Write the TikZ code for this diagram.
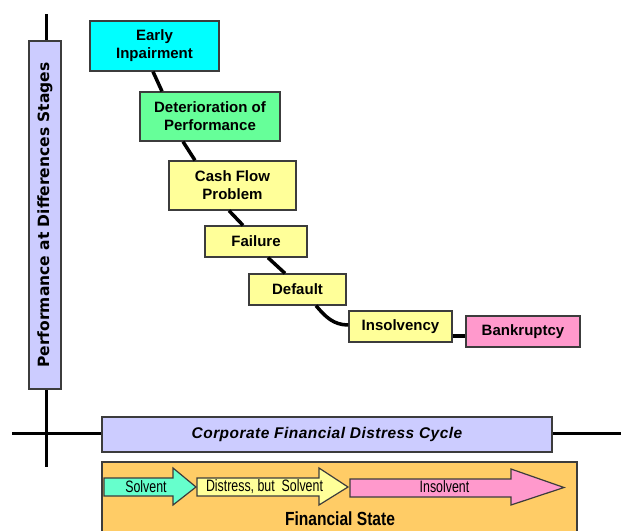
\documentclass[tikz,border=0pt]{standalone}
\usepackage{fontspec}
\usepackage{tikz}
\setmainfont{Liberation Sans}
\newfontfamily\axisfont{DejaVu Sans}
\newfontfamily\cyclefont[LetterSpace=3]{Liberation Sans}
\newfontfamily\narrowfont[FakeStretch=0.82]{Liberation Sans}
\newfontfamily\labelfont[FakeStretch=0.75]{Liberation Sans}

\definecolor{earlyc}{RGB}{0,255,255}
\definecolor{detc}{RGB}{102,255,153}
\definecolor{stagec}{RGB}{255,255,153}
\definecolor{bankc}{RGB}{255,153,204}
\definecolor{axisc}{RGB}{204,204,255}
\definecolor{statec}{RGB}{255,204,102}
\definecolor{solventc}{RGB}{102,255,204}
\definecolor{edgec}{RGB}{60,60,60}

\tikzset{
	stagebox/.style={draw=edgec, line width=1.3pt, align=center, inner sep=0pt,
		font=\fontsize{15}{18}\selectfont\bfseries},
	axisbox/.style={draw=edgec, line width=1.3pt, fill=axisc, inner sep=0pt},
	link/.style={line width=3.5pt, black},
	axisline/.style={line width=3pt, black},
	statearrow/.style={draw=edgec, line width=1.2pt},
	arrowtext/.style={font=\labelfont\fontsize{16.5}{18}\selectfont, inner sep=0pt}
}

\begin{document}
\begin{tikzpicture}[x=1pt, y=-1pt]
	
	\clip (0,0) rectangle (621,530);
	
	% axes
	\coordinate (ytop) at (46,14);
	\coordinate (ybot) at (46,467);
	\coordinate (xleft) at (12,433);
	\coordinate (xright) at (625,433);
	\draw[axisline] (ytop) -- (ybot);
	\draw[axisline] (xleft) -- (xright);
	
	\node[axisbox, rotate=90, minimum width=348, minimum height=32,
		font=\axisfont\fontsize{15.5}{18}\selectfont\bfseries] (perf) at (45,215)
		{Performance at Differences Stages};
	\node[axisbox, minimum width=450, minimum height=35,
		font=\cyclefont\fontsize{15.5}{18}\selectfont\bfseries\itshape] (cycle) at (327,434.5)
		{Corporate Financial Distress Cycle};
	
	% stages
	\node[stagebox, fill=earlyc, minimum width=129, minimum height=50] (early) at (154.5,46) {Early\\Inpairment};
	\node[stagebox, fill=detc, minimum width=140, minimum height=49] (det) at (210,116.5) {Deterioration of\\Performance};
	\node[stagebox, fill=stagec, minimum width=127, minimum height=49] (cash) at (232.5,185.5) {Cash Flow\\Problem};
	\node[stagebox, fill=stagec, minimum width=102, minimum height=31] (failure) at (256,241.5) {Failure};
	\node[stagebox, fill=stagec, minimum width=97, minimum height=31] (default) at (297.5,289.5) {Default};
	\node[stagebox, fill=stagec, minimum width=103, minimum height=31] (insolvency) at (400.5,326.5) {Insolvency};
	\node[stagebox, fill=bankc, minimum width=114, minimum height=31] (bankruptcy) at (523,331.5) {Bankruptcy};
	
	\draw[link] ([xshift=-1.5pt]early.south) -- ([xshift=-48pt]det.north);
	\draw[link] ([xshift=-27pt]det.south) -- ([xshift=-37.5pt]cash.north);
	\draw[link] ([xshift=-3.5pt]cash.south) -- ([xshift=-13pt]failure.north);
	\draw[link] ([xshift=12pt]failure.south) -- ([xshift=-12.5pt]default.north);
	\draw[link] ([xshift=18.5pt]default.south) to[out=-50, in=180] ([yshift=1.5pt]insolvency.west);
	\draw[link] ([yshift=-9.5pt]insolvency.east) -- ([yshift=-9.5pt]insolvency.east -| bankruptcy.west);
	
	% financial state
	\draw[draw=edgec, line width=1.3pt, fill=statec] (102,462) rectangle (577,545);
	\node[font=\narrowfont\fontsize{19}{22}\selectfont\bfseries, anchor=base] (state) at (340,525) {Financial State};
	
	\draw[statearrow, fill=solventc] (104,478) -- (173,478) -- (173,468) -- (196,487) -- (173,505) -- (173,496) -- (104,496) -- cycle;
	\draw[statearrow, fill=stagec] (197,478) -- (319,478) -- (319,468) -- (348,487) -- (319,505) -- (319,496) -- (197,496) -- cycle;
	\draw[statearrow, fill=bankc] (350,479) -- (511,479) -- (511,469) -- (564,487.5) -- (511,505) -- (511,497) -- (350,497) -- cycle;
	
	\node[arrowtext] (solvent) at (146,487) {Solvent};
	\node[arrowtext] (distress) at (264.5,487) {Distress, but\ \ Solvent};
	\node[arrowtext] (insolvent) at (444.5,487) {Insolvent};
	
\end{tikzpicture}
\end{document}
